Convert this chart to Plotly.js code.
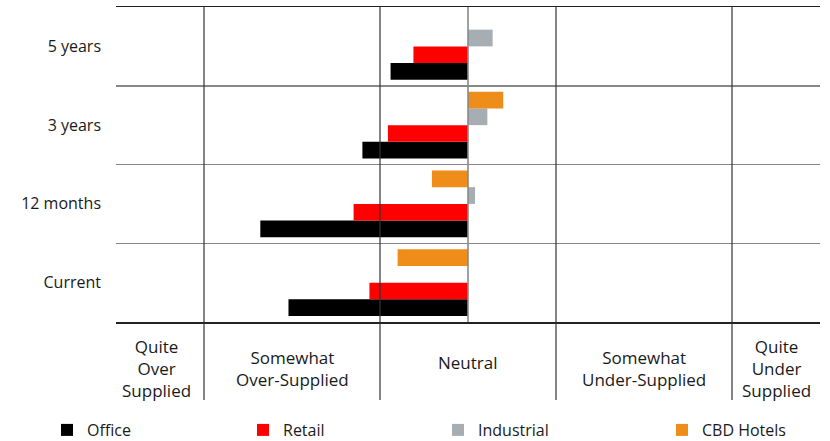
<!DOCTYPE html>
<html>
<head>
<meta charset="utf-8">
<script src="https://cdn.plot.ly/plotly-3.0.1.min.js"></script>
<style>html,body{margin:0;padding:0;background:#fff;}#chart{width:830px;height:441px;}</style>
</head>
<body>
<div id="chart"></div>
<script>
var periods = ['Current', '12 months', '3 years', '5 years'];
var office = [-1.02, -1.18, -0.60, -0.44];
var retail = [-0.56, -0.65, -0.455, -0.31];
var industrial = [0, 0.04, 0.11, 0.14];
var cbdHotels = [-0.40, -0.205, 0.20, 0];
var scaleLabels = ['Quite<br>Over<br>Supplied', 'Somewhat<br>Over-Supplied', 'Neutral', 'Somewhat<br>Under-Supplied', 'Quite<br>Under<br>Supplied'];
var scaleCenters = [-1.77, -1, 0, 1, 1.75];
var dividers = [-1.5, -0.5, 0.5, 1.5];

var FONT = 'Open Sans, sans-serif';
var TXT = '#1a1a1a';

function bar(name, vals, color, legendId) {
  return {type: 'bar', orientation: 'h', name: name, y: periods, x: vals,
    marker: {color: color, line: {width: 0}}, legend: legendId, hoverinfo: 'x+name'};
}
var traces = [
  bar('Office', office, '#000000', 'legend'),
  bar('Retail', retail, '#ff0000', 'legend2'),
  bar('Industrial', industrial, '#a7aeb3', 'legend3'),
  bar('CBD Hotels', cbdHotels, '#ef8d1b', 'legend4')
];

var shapes = dividers.map(function (d) {
  return {type: 'line', xref: 'x', yref: 'paper', x0: d, x1: d, y0: -0.2476, y1: 1,
    line: {color: '#333', width: 1.2}, layer: 'above'};
});
shapes.push({type: 'line', xref: 'x', yref: 'paper', x0: 0, x1: 0, y0: 0, y1: 1,
  line: {color: '#8a8a8a', width: 1.6}, layer: 'above'});

var annotations = scaleLabels.map(function (t, i) {
  var multi = t.indexOf('<br>') >= 0;
  return {text: t, x: scaleCenters[i], xref: 'x', y: multi ? -0.149 : -0.130, yref: 'paper',
    xanchor: 'center', yanchor: 'middle', showarrow: false, align: 'center',
    font: {family: FONT, size: 17, color: TXT}};
});

function leg(px) {
  return {x: (px - 116) / 704, xanchor: 'left', yref: 'container', y: 1 - 430 / 441, yanchor: 'middle',
    orientation: 'h', font: {family: FONT, size: 16, color: TXT}, bgcolor: 'rgba(0,0,0,0)', borderwidth: 0};
}

var layout = {
  width: 830, height: 441,
  margin: {l: 116, r: 10, t: 7, b: 119, autoexpand: false},
  paper_bgcolor: '#fff', plot_bgcolor: '#fff',
  barmode: 'group', bargap: 0.15, bargroupgap: 0,
  font: {family: FONT, size: 16, color: TXT},
  showlegend: true,
  legend: leg(47), legend2: leg(243), legend3: leg(438), legend4: leg(662),
  xaxis: {range: [-2, 2], showgrid: false, zeroline: false, showticklabels: false, ticks: '',
    showline: true, mirror: true, linecolor: '#222', linewidth: 1.5, fixedrange: true},
  yaxis: {type: 'category', categoryorder: 'array', categoryarray: periods,
    tickson: 'boundaries', showgrid: true, gridcolor: '#888', gridwidth: 1.5, ticks: '',
    zeroline: false, showline: false, ticklabelstandoff: 14,
    tickfont: {family: FONT, size: 16, color: TXT}, fixedrange: true},
  shapes: shapes,
  annotations: annotations
};

Plotly.newPlot('chart', traces, layout, {displayModeBar: false, staticPlot: true});
</script>
</body>
</html>
